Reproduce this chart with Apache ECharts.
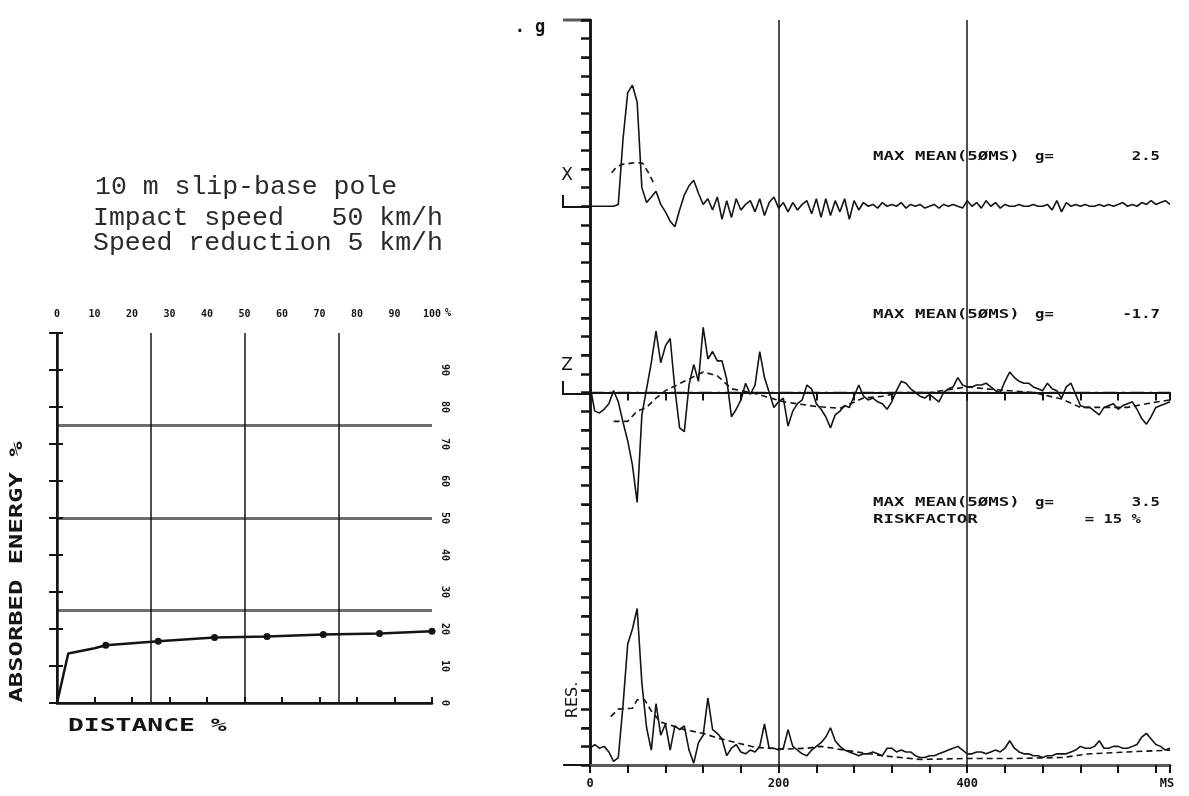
<!DOCTYPE html>
<html><head><meta charset="utf-8">
<script src="https://cdn.jsdelivr.net/npm/echarts@6/dist/echarts.min.js"></script>
<style>html,body{margin:0;padding:0;background:#fff}#c{width:1189px;height:796px}</style>
</head><body><div id="c"></div>
<script>
// ---------- Left chart: absorbed energy vs distance ----------
const energyDistance = [0, 3, 10, 13, 27, 42, 56, 71, 86, 100];
const energyAbsorbed = [0, 13.4, 14.8, 15.6, 16.7, 17.7, 18.0, 18.5, 18.8, 19.4];
const energyDot = [false, false, false, true, true, true, true, true, true, true];
const distanceTickLabels = [0, 10, 20, 30, 40, 50, 60, 70, 80, 90, 100];
const energyTickLabels = [0, 10, 20, 30, 40, 50, 60, 70, 80, 90];

// ---------- Right chart: accelerations (g) vs time (ms) ----------
const timeMs = [
  0,5,10,15,20,25,30,35,40,45, 50,55,60,65,70,75,80,85,90,95,
  100,105,110,115,120,125,130,135,140,145, 150,155,160,165,170,175,180,185,190,195,
  200,205,210,215,220,225,230,235,240,245, 250,255,260,265,270,275,280,285,290,295,
  300,305,310,315,320,325,330,335,340,345, 350,355,360,365,370,375,380,385,390,395,
  400,405,410,415,420,425,430,435,440,445, 450,455,460,465,470,475,480,485,490,495,
  500,505,510,515,520,525,530,535,540,545, 550,555,560,565,570,575,580,585,590,595,
  600,605,610,615];
const timeTickLabels = [0, 200, 400];

const accX = [
  0,0,0,0,0,0,0.1,3.6,6.1,6.5,
  5.6,1.0,0.2,0.5,0.8,0.1,-0.3,-0.8,-1.1,-0.2,
  0.6,1.1,1.4,0.7,0.1,0.4,-0.2,0.5,-0.7,0.3,
  -0.6,0.4,-0.2,0.1,0.3,-0.3,0.4,-0.5,0.2,0.5,
  -0.1,0.2,-0.3,0.2,-0.2,0.1,0.3,-0.4,0.4,-0.6,
  0.4,-0.5,0.3,-0.3,0.4,-0.7,0.3,-0.2,0.2,0.0,
  0.1,-0.1,0.2,0.0,0.1,0.0,0.2,-0.1,0.1,0.0,
  0.1,-0.1,0.0,0.1,-0.1,0.1,0.0,0.1,0.0,-0.1,
  0.3,0.0,0.2,-0.1,0.3,0.0,0.2,-0.1,0.1,0.0,
  0.0,0.1,0.0,0.0,0.1,0.0,0.0,0.1,-0.2,0.3,
  -0.3,0.2,0.0,0.1,0.0,0.1,0.0,0.0,0.1,0.0,
  0.1,0.0,0.1,0.2,0.0,0.1,0.0,0.2,0.1,0.3,
  0.1,0.2,0.3,0.1];
const accXMeanTime = [23, 28, 34, 42, 50, 56, 62, 69];
const accXMean = [1.8, 2.1, 2.25, 2.3, 2.35, 2.3, 1.8, 1.1];

const accZ = [
  0.4,-1.0,-1.1,-0.9,-0.6,0.1,-0.5,-1.6,-2.6,-3.9,
  -5.9,-1.2,0.2,1.6,3.3,1.6,2.5,2.9,0.2,-1.9,
  -2.1,0.4,1.5,0.6,3.5,1.8,2.2,1.7,1.7,0.7,
  -1.3,-0.9,-0.4,0.5,-0.1,0.4,2.2,0.8,0.0,-0.8,
  -0.5,-0.3,-1.8,-1.0,-0.6,-0.4,0.4,0.2,-0.6,-0.9,
  -1.3,-1.9,-1.2,-1.0,-0.7,-0.8,-0.2,0.4,-0.2,-0.4,
  -0.3,-0.5,-0.6,-0.9,-0.5,0.1,0.6,0.5,0.2,0.0,
  -0.2,-0.3,-0.1,-0.3,-0.5,0.0,0.2,0.3,0.8,0.4,
  0.3,0.3,0.4,0.4,0.5,0.3,0.1,0.0,0.6,1.1,
  0.8,0.6,0.5,0.5,0.3,0.2,0.1,0.5,0.2,0.1,
  -0.3,0.3,0.5,-0.1,-0.7,-0.8,-0.8,-1.0,-1.2,-0.8,
  -0.7,-0.6,-0.9,-0.7,-0.6,-0.5,-0.9,-1.4,-1.7,-1.3,
  -0.8,-0.7,-0.6,-0.5];
const accZMeanTime = [25, 40, 50, 60, 70, 80, 100, 120, 135, 150, 175, 205, 240, 265, 290, 310, 330, 360, 400, 430, 470, 500, 520, 550, 570, 590, 615];
const accZMean = [-1.55, -1.55, -1.0, -0.8, -0.3, 0.1, 0.6, 1.1, 0.9, 0.2, -0.05, -0.5, -0.75, -0.85, -0.3, -0.2, 0.0, 0.0, 0.3, 0.15, 0.0, -0.35, -0.8, -0.8, -0.8, -0.6, -0.4];

const accRes = [
  0.9,1.1,0.9,1.0,0.7,0.2,0.4,3.2,6.5,7.3,
  8.4,4.4,2.0,0.8,3.3,1.6,2.2,0.8,2.1,1.9,
  2.1,0.8,0.1,1.2,1.6,3.6,1.9,1.7,1.4,0.5,
  0.9,1.1,0.7,0.6,0.8,0.7,1.0,2.2,0.9,0.9,
  0.8,0.9,1.9,1.0,0.8,0.6,0.5,0.8,1.0,1.2,
  1.5,2.0,1.3,1.0,0.8,0.7,0.6,0.5,0.6,0.6,
  0.7,0.6,0.5,0.9,0.9,0.7,0.8,0.7,0.7,0.5,
  0.4,0.4,0.5,0.5,0.6,0.7,0.8,0.9,1.0,0.8,
  0.6,0.6,0.7,0.7,0.6,0.7,0.8,0.7,0.9,1.3,
  0.9,0.7,0.6,0.6,0.5,0.5,0.4,0.5,0.5,0.6,
  0.6,0.6,0.7,0.8,1.0,0.9,0.9,1.0,1.3,0.9,
  0.9,1.0,1.0,0.9,0.9,1.0,1.1,1.5,1.7,1.4,
  1.1,1.0,0.8,0.9];
const accResMeanTime = [22, 30, 45, 50, 58, 65, 75, 100, 120, 135, 155, 175, 205, 230, 245, 270, 310, 350, 400, 450, 500, 530, 570, 615];
const accResMean = [2.6, 3.0, 3.05, 3.5, 3.5, 2.9, 2.3, 1.9, 1.7, 1.45, 1.2, 0.95, 0.85, 0.9, 1.0, 0.8, 0.5, 0.3, 0.35, 0.35, 0.4, 0.6, 0.7, 0.8];

// ---------- build ----------
const INK = '#141414';
const MONO = 'DejaVu Sans Mono';
const pairs = (xs, ys) => xs.map((x, i) => [x, ys[i]]);

const chart = echarts.init(document.getElementById('c'), null, {renderer: 'canvas'});

const blockLabel = (size) => ({fontFamily: MONO, fontWeight: 'bold', fontSize: size, color: INK});

const option = {
  animation: false,
  backgroundColor: '#fff',
  grid: [
    {left: 590, top: 20, width: 580, height: 745},
    {left: 57, top: 333, width: 375, height: 370}
  ],
  xAxis: [
    {gridIndex: 0, type: 'value', min: 0, max: 615, interval: 40, position: 'bottom',
     axisLine: {lineStyle: {color: INK, width: 2}},
     axisTick: {show: true, inside: false, length: 8, lineStyle: {color: INK, width: 2}},
     axisLabel: Object.assign({show: true, margin: 13,
        formatter: v => timeTickLabels.includes(v) ? String(v) : ''}, blockLabel(12)),
     splitLine: {show: false}},
    {gridIndex: 0, type: 'value', min: 0, max: 615, interval: 40, position: 'top',
     axisLine: {lineStyle: {color: '#5a5a5a', width: 3}},
     axisTick: {show: true, inside: true, length: 8, lineStyle: {color: INK, width: 2}},
     axisLabel: {show: false}, splitLine: {show: false}},
    {gridIndex: 1, type: 'value', min: 0, max: 100, interval: 10, position: 'top',
     axisLine: {lineStyle: {color: INK, width: 2}},
     axisTick: {show: true, inside: false, length: 5, lineStyle: {color: INK, width: 2}},
     axisLabel: Object.assign({show: true, margin: 14,
        formatter: v => distanceTickLabels.includes(v) ? String(v) : ''}, blockLabel(10)),
     splitLine: {show: false}},
    {gridIndex: 1, type: 'value', min: 0, max: 100, interval: 10, position: 'bottom',
     axisLine: {lineStyle: {color: INK, width: 2.5}},
     axisTick: {show: true, inside: true, length: 6, lineStyle: {color: INK, width: 2}},
     axisLabel: {show: false}, splitLine: {show: false}},
    {gridIndex: 1, type: 'value', min: 0, max: 100, interval: 25, position: 'bottom',
     axisLine: {show: false}, axisTick: {show: false}, axisLabel: {show: false},
     splitLine: {show: true, showMinLine: false, showMaxLine: false, lineStyle: {color: INK, width: 1.5}}}
  ],
  yAxis: [
    {gridIndex: 0, type: 'value', min: -20, max: 20, interval: 1, position: 'left',
     axisLine: {show: true, lineStyle: {color: INK, width: 2.5}},
     axisTick: {show: true, inside: false, length: 9, lineStyle: {color: INK, width: 2.5}},
     axisLabel: {show: false}, splitLine: {show: false}},
    {gridIndex: 0, type: 'value', min: 0, max: 40, interval: 2, position: 'right',
     axisLine: {show: true, lineStyle: {color: INK, width: 2.5}},
     axisTick: {show: true, inside: true, length: 8, lineStyle: {color: INK, width: 2}},
     axisLabel: {show: false}, splitLine: {show: false}},
    {gridIndex: 0, type: 'value', min: -30, max: 10, show: false, splitLine: {show: false}},
    {gridIndex: 1, type: 'value', min: 0, max: 100, interval: 10, position: 'left',
     axisLine: {show: true, lineStyle: {color: INK, width: 2.5}},
     axisTick: {show: true, inside: false, length: 8, lineStyle: {color: INK, width: 2}},
     axisLabel: {show: false}, splitLine: {show: false}},
    {gridIndex: 1, type: 'value', min: 0, max: 100, interval: 10, position: 'right',
     axisLine: {show: true, lineStyle: {color: INK, width: 2}},
     axisTick: {show: true, inside: false, length: 6, lineStyle: {color: INK, width: 2}},
     axisLabel: Object.assign({show: true, rotate: -90, margin: 8,
        formatter: v => energyTickLabels.includes(v) ? String(v) : ''}, blockLabel(10)),
     splitLine: {show: false}},
    {gridIndex: 1, type: 'value', min: 0, max: 100, interval: 25, position: 'left', show: true,
     axisLine: {show: false}, axisTick: {show: false}, axisLabel: {show: false},
     splitLine: {show: true, showMinLine: false, showMaxLine: false, lineStyle: {color: '#6e6e6e', width: 3}}}
  ],
  series: [
    {type: 'line', name: 'Absorbed energy', xAxisIndex: 2, yAxisIndex: 3,
     data: energyDistance.map((d, i) => ({value: [d, energyAbsorbed[i]], symbol: energyDot[i] ? 'circle' : 'none'})),
     symbolSize: 7, lineStyle: {color: INK, width: 2.5}, itemStyle: {color: INK}, z: 5},
    {type: 'line', name: 'X', xAxisIndex: 0, yAxisIndex: 2, data: pairs(timeMs, accX),
     showSymbol: false, symbol: 'none', lineStyle: {color: INK, width: 1.6},
     markLine: {silent: true, symbol: ['none', 'none'], label: {show: false},
       lineStyle: {color: INK, width: 1.5, type: 'solid'},
       data: [{xAxis: 200}, {xAxis: 400}]}},
    {type: 'line', name: 'X mean', xAxisIndex: 0, yAxisIndex: 2, data: pairs(accXMeanTime, accXMean),
     symbol: 'none', lineStyle: {color: INK, width: 1.6, type: [6, 4]}},
    {type: 'line', name: 'Z', xAxisIndex: 0, yAxisIndex: 0, data: pairs(timeMs, accZ),
     symbol: 'none', lineStyle: {color: INK, width: 1.6},
     markLine: {silent: true, symbol: ['none', 'none'], label: {show: false},
       lineStyle: {color: INK, width: 1.3, type: [14, 5, 3, 5]},
       data: [{yAxis: 0}]}},
    {type: 'line', name: 'Z mean', xAxisIndex: 0, yAxisIndex: 0, data: pairs(accZMeanTime, accZMean),
     symbol: 'none', lineStyle: {color: INK, width: 1.6, type: [6, 4]}},
    {type: 'line', name: 'RES', xAxisIndex: 0, yAxisIndex: 1, data: pairs(timeMs, accRes),
     symbol: 'none', lineStyle: {color: INK, width: 1.6}},
    {type: 'line', name: 'RES mean', xAxisIndex: 0, yAxisIndex: 1, data: pairs(accResMeanTime, accResMean),
     symbol: 'none', lineStyle: {color: INK, width: 1.6, type: [6, 4]}}
  ],
  graphic: [
    // header text
    {type: 'text', x: 95, y: 187, style: {text: '10 m slip-base pole', font: '26.5px "Liberation Mono"', fill: '#2a2a2a', align: 'left', verticalAlign: 'middle'}},
    {type: 'text', x: 93, y: 218, style: {text: 'Impact speed   50 km/h', font: '26.5px "Liberation Mono"', fill: '#2a2a2a', align: 'left', verticalAlign: 'middle'}},
    {type: 'text', x: 93, y: 243, style: {text: 'Speed reduction 5 km/h', font: '26.5px "Liberation Mono"', fill: '#2a2a2a', align: 'left', verticalAlign: 'middle'}},
    // left chart titles
    {type: 'text', x: 18, y: 572, rotation: Math.PI / 2, scaleX: 1.5,
     style: {text: 'ABSORBED ENERGY %', font: 'bold 17px "DejaVu Sans Mono"', fill: INK, align: 'center', verticalAlign: 'middle'}},
    {type: 'text', x: 68, y: 727, scaleX: 1.55,
     style: {text: 'DISTANCE %', font: 'bold 17px "DejaVu Sans Mono"', fill: INK, align: 'left', verticalAlign: 'middle'}},
    {type: 'text', x: 448, y: 313, style: {text: '%', font: 'bold 10px "DejaVu Sans Mono"', fill: INK, align: 'center', verticalAlign: 'middle'}},
    // right chart labels
    {type: 'text', x: 530, y: 28, style: {text: '. g', font: 'bold 17px "DejaVu Sans Mono"', fill: INK, align: 'center', verticalAlign: 'middle'}},
    {type: 'text', x: 567, y: 176, style: {text: 'X', font: '17px "DejaVu Sans"', fill: INK, align: 'center', verticalAlign: 'middle'}},
    {type: 'text', x: 567, y: 366, style: {text: 'Z', font: '17px "DejaVu Sans"', fill: INK, align: 'center', verticalAlign: 'middle'}},
    {type: 'text', x: 573, y: 700, rotation: Math.PI / 2,
     style: {text: 'RES.', font: '16px "DejaVu Sans"', fill: INK, align: 'center', verticalAlign: 'middle'}},
    {type: 'text', x: 1167, y: 784, style: {text: 'MS', font: 'bold 12px "DejaVu Sans Mono"', fill: INK, align: 'center', verticalAlign: 'middle'}},
    {type: 'polyline', shape: {points: [[563, 195], [563, 207], [590, 207]]}, style: {stroke: INK, lineWidth: 2, fill: null}},
    {type: 'polyline', shape: {points: [[563, 381], [563, 394], [590, 394]]}, style: {stroke: INK, lineWidth: 2, fill: null}},
    {type: 'line', shape: {x1: 563, y1: 765, x2: 590, y2: 765}, style: {stroke: INK, lineWidth: 2}},
    {type: 'line', shape: {x1: 563, y1: 20, x2: 590, y2: 20}, style: {stroke: '#5a5a5a', lineWidth: 3}},
    // annotation texts
    {type: 'text', x: 873, y: 157, scaleX: 1.45, style: {text: 'MAX MEAN(5ØMS)', font: 'bold 12px "DejaVu Sans Mono"', fill: INK, align: 'left', verticalAlign: 'middle'}},
    {type: 'text', x: 1035, y: 157, scaleX: 1.3, style: {text: 'g=', font: 'bold 12px "DejaVu Sans Mono"', fill: INK, align: 'left', verticalAlign: 'middle'}},
    {type: 'text', x: 1160, y: 157, scaleX: 1.3, style: {text: '2.5', font: 'bold 12px "DejaVu Sans Mono"', fill: INK, align: 'right', verticalAlign: 'middle'}},
    {type: 'text', x: 873, y: 315, scaleX: 1.45, style: {text: 'MAX MEAN(5ØMS)', font: 'bold 12px "DejaVu Sans Mono"', fill: INK, align: 'left', verticalAlign: 'middle'}},
    {type: 'text', x: 1035, y: 315, scaleX: 1.3, style: {text: 'g=', font: 'bold 12px "DejaVu Sans Mono"', fill: INK, align: 'left', verticalAlign: 'middle'}},
    {type: 'text', x: 1160, y: 315, scaleX: 1.3, style: {text: '-1.7', font: 'bold 12px "DejaVu Sans Mono"', fill: INK, align: 'right', verticalAlign: 'middle'}},
    {type: 'text', x: 873, y: 503, scaleX: 1.45, style: {text: 'MAX MEAN(5ØMS)', font: 'bold 12px "DejaVu Sans Mono"', fill: INK, align: 'left', verticalAlign: 'middle'}},
    {type: 'text', x: 1035, y: 503, scaleX: 1.3, style: {text: 'g=', font: 'bold 12px "DejaVu Sans Mono"', fill: INK, align: 'left', verticalAlign: 'middle'}},
    {type: 'text', x: 1160, y: 503, scaleX: 1.3, style: {text: '3.5', font: 'bold 12px "DejaVu Sans Mono"', fill: INK, align: 'right', verticalAlign: 'middle'}},
    {type: 'text', x: 873, y: 520, scaleX: 1.45, style: {text: 'RISKFACTOR', font: 'bold 12px "DejaVu Sans Mono"', fill: INK, align: 'left', verticalAlign: 'middle'}},
    {type: 'text', x: 1141, y: 520, scaleX: 1.3, style: {text: '= 15 %', font: 'bold 12px "DejaVu Sans Mono"', fill: INK, align: 'right', verticalAlign: 'middle'}}
  ]
};
chart.setOption(option);
</script>
</body></html>
